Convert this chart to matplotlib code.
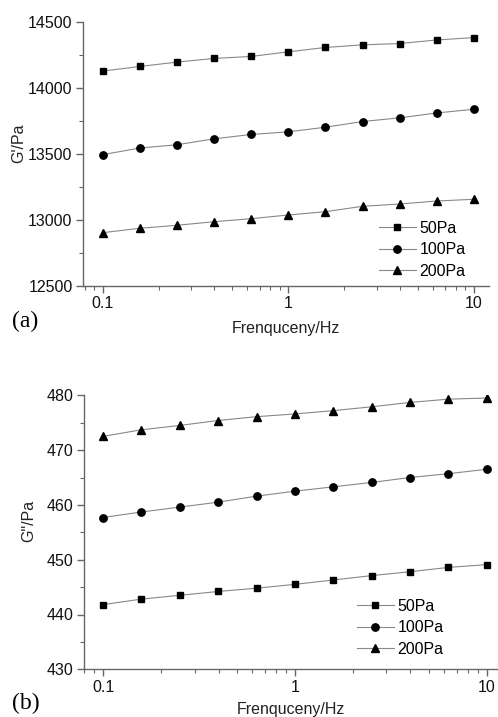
import matplotlib
matplotlib.use("Agg")
import matplotlib.pyplot as plt
from matplotlib.ticker import LogLocator, FixedLocator, NullFormatter, FuncFormatter

plt.rcParams['font.family'] = ['Liberation Sans', 'DejaVu Sans']

freq = [0.1, 0.158, 0.251, 0.398, 0.631, 1.0, 1.585, 2.512, 3.981, 6.31, 10.0]
labels = ['50Pa', '100Pa', '200Pa']
markers = ['s', 'o', '^']
msizes = [4.8, 5.3, 6.0]

g1_50 = [14128, 14163, 14196, 14224, 14239, 14274, 14307, 14327, 14337, 14364, 14382]
g1_100 = [13495, 13545, 13570, 13615, 13648, 13668, 13703, 13746, 13774, 13811, 13839]
g1_200 = [12904, 12937, 12960, 12987, 13010, 13038, 13063, 13104, 13121, 13144, 13157]

g2_50 = [441.8, 442.8, 443.5, 444.2, 444.8, 445.5, 446.3, 447.1, 447.8, 448.6, 449.1]
g2_100 = [457.7, 458.7, 459.6, 460.5, 461.6, 462.5, 463.3, 464.1, 465.0, 465.7, 466.5]
g2_200 = [472.5, 473.7, 474.5, 475.4, 476.1, 476.6, 477.2, 477.9, 478.7, 479.3, 479.5]

W, H = 498, 717
fig = plt.figure(figsize=(W / 100, H / 100), dpi=100)

spine_col = '#666666'
FS = 11.5


def style(ax, ylim, yticks, ymin_step, xlim, xlabelpad):
    ax.set_xscale('log')
    ax.set_xlim(*xlim)
    ax.set_ylim(*ylim)
    for s in ['top', 'right']:
        ax.spines[s].set_visible(False)
    for s in ['left', 'bottom']:
        ax.spines[s].set_color(spine_col)
        ax.spines[s].set_linewidth(1.0)
    ax.xaxis.set_major_locator(FixedLocator([0.1, 1, 10]))
    ax.xaxis.set_major_formatter(FuncFormatter(lambda v, p: f"{v:g}"))
    ax.xaxis.set_minor_locator(LogLocator(base=10, subs=range(2, 10)))
    ax.xaxis.set_minor_formatter(NullFormatter())
    ax.yaxis.set_major_locator(FixedLocator(yticks))
    mins = []
    v = ylim[0]
    while v <= ylim[1] + 1e-9:
        mins.append(v)
        v += ymin_step
    ax.yaxis.set_minor_locator(FixedLocator(mins))
    ax.tick_params(which='major', direction='out', length=5, width=1, color=spine_col,
                   labelsize=FS, labelcolor='#111111', pad=2.5)
    ax.tick_params(which='minor', direction='out', length=3, width=0.8, color=spine_col)
    ax.set_xlabel('Frenquceny/Hz', fontsize=FS, color='#222222', labelpad=xlabelpad)


def legend(ax, x_px, y_px):
    ax.legend(loc='upper left', bbox_to_anchor=(x_px / W, 1 - y_px / H),
              bbox_transform=fig.transFigure,
              frameon=False, fontsize=FS, handlelength=2.3, handletextpad=0.25,
              labelspacing=0.4, borderpad=0.0, borderaxespad=0.0)


# top panel
ax1 = fig.add_axes([83 / W, 1 - 286 / H, (489 - 83) / W, (286 - 22) / H])
for ys, m, ms, lab in zip([g1_50, g1_100, g1_200], markers, msizes, labels):
    ax1.plot(freq, ys, color='#888888', lw=0.8, marker=m, markersize=ms,
             markerfacecolor='black', markeredgecolor='black', label=lab)
style(ax1, (12500, 14500), [12500, 13000, 13500, 14000, 14500], 250, (0.0783, 12.05), 7)
ax1.set_ylabel("G'/Pa", fontsize=FS, color='#222222')
ax1.yaxis.set_label_coords((26 - 83) / (489 - 83), 0.54)
legend(ax1, 379, 221)
fig.text(12 / W, 1 - 321 / H, '(a)', fontsize=17, family='Liberation Serif', va='center', ha='left')

# bottom panel
ax2 = fig.add_axes([84 / W, 1 - 669.3 / H, (497 - 84) / W, (669.3 - 395.3) / H])
for ys, m, ms, lab in zip([g2_50, g2_100, g2_200], markers, msizes, labels):
    ax2.plot(freq, ys, color='#888888', lw=0.8, marker=m, markersize=ms,
             markerfacecolor='black', markeredgecolor='black', label=lab)
style(ax2, (430, 480), [430, 440, 450, 460, 470, 480], 5, (0.0796, 11.3), 5.5)
ax2.set_ylabel('G"/Pa', fontsize=FS, color='#222222')
ax2.yaxis.set_label_coords((36 - 84) / (497 - 84), 0.541)
legend(ax2, 357, 599)
fig.text(12 / W, 1 - 703 / H, '(b)', fontsize=17, family='Liberation Serif', va='center', ha='left')

fig.savefig('out.png', dpi=100, facecolor='white')
